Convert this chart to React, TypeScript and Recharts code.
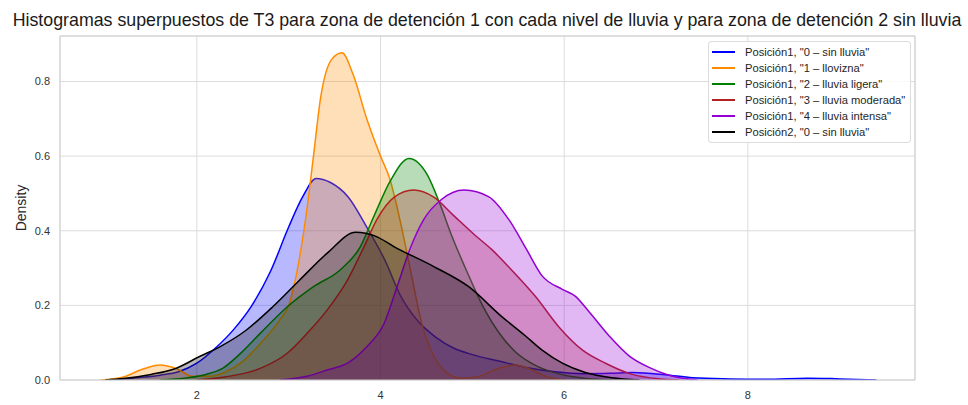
import { ComposedChart, Area, XAxis, YAxis, CartesianGrid, Legend, ReferenceLine } from "recharts"

const X_TICKS = [2, 4, 6, 8]
const Y_TICKS = [0, 0.2, 0.4, 0.6, 0.8]
const X_DOMAIN = [0.51, 9.82]
const Y_MAX = 0.922

// Posición1, "0 – sin lluvia"
const blueX = [1.0, 1.3, 1.6, 1.8, 2.0, 2.2, 2.4, 2.6, 2.8, 3.0, 3.15, 3.3, 3.45, 3.65, 3.85, 4.05, 4.22, 4.4, 4.6, 4.8, 5.0, 5.3, 5.6, 5.9, 6.2, 6.5, 6.75, 7.1, 7.4, 7.8, 8.2, 8.65, 9.0, 9.4]
const blueY = [0, 0.005, 0.013, 0.022, 0.045, 0.085, 0.135, 0.2, 0.29, 0.41, 0.49, 0.54, 0.53, 0.49, 0.41, 0.32, 0.225, 0.16, 0.115, 0.085, 0.068, 0.05, 0.033, 0.022, 0.017, 0.018, 0.02, 0.014, 0.006, 0.003, 0.002, 0.005, 0.003, 0]

// Posición1, "1 – llovizna"
const orangeX = [0.95, 1.2, 1.4, 1.6, 1.78, 1.95, 2.15, 2.3, 2.5, 2.7, 2.9, 3.0, 3.12, 3.2, 3.27, 3.35, 3.47, 3.58, 3.7, 3.85, 4.0, 4.1, 4.22, 4.33, 4.45, 4.58, 4.72, 4.88, 5.05, 5.25, 5.47, 5.62, 5.82, 6.0]
const orangeY = [0, 0.008, 0.028, 0.04, 0.03, 0.01, 0.01, 0.02, 0.05, 0.1, 0.16, 0.2, 0.33, 0.46, 0.6, 0.76, 0.86, 0.877, 0.82, 0.7, 0.6, 0.54, 0.42, 0.29, 0.15, 0.065, 0.02, 0.005, 0.008, 0.028, 0.04, 0.03, 0.008, 0]

// Posición1, "2 – lluvia ligera"
const greenX = [1.6, 1.9, 2.1, 2.28, 2.47, 2.69, 2.98, 3.27, 3.56, 3.78, 3.93, 4.11, 4.31, 4.51, 4.65, 4.77, 4.96, 5.11, 5.31, 5.47, 5.72, 6.02, 6.3, 6.6]
const greenY = [0, 0.006, 0.015, 0.031, 0.07, 0.125, 0.195, 0.25, 0.295, 0.357, 0.44, 0.535, 0.594, 0.55, 0.47, 0.39, 0.28, 0.2, 0.12, 0.075, 0.035, 0.012, 0.003, 0]

// Posición1, "3 – lluvia moderada"
const redX = [2.0, 2.3, 2.69, 2.98, 3.2, 3.42, 3.64, 3.82, 3.96, 4.15, 4.36, 4.58, 4.8, 5.02, 5.21, 5.4, 5.69, 5.94, 6.2, 6.45, 6.74, 7.04, 7.25]
const redY = [0, 0.008, 0.031, 0.071, 0.125, 0.188, 0.268, 0.357, 0.43, 0.49, 0.509, 0.49, 0.44, 0.39, 0.35, 0.302, 0.223, 0.143, 0.08, 0.045, 0.015, 0.003, 0]

// Posición1, "4 – lluvia intensa"
const purpleX = [2.9, 3.2, 3.42, 3.64, 3.85, 4.04, 4.18, 4.33, 4.47, 4.66, 4.91, 5.18, 5.4, 5.59, 5.76, 5.98, 6.12, 6.28, 6.49, 6.71, 6.93, 7.15, 7.45]
const purpleY = [0, 0.01, 0.027, 0.045, 0.089, 0.152, 0.25, 0.357, 0.43, 0.483, 0.509, 0.491, 0.429, 0.35, 0.279, 0.243, 0.225, 0.18, 0.118, 0.064, 0.033, 0.012, 0]

// Posición2, "0 – sin lluvia"
const blackX = [1.0, 1.2, 1.5, 1.77, 2.03, 2.25, 2.54, 2.83, 3.12, 3.42, 3.73, 3.95, 4.15, 4.58, 4.96, 5.32, 5.57, 5.76, 5.98, 6.23, 6.52, 6.82]
const blackY = [0, 0.004, 0.015, 0.031, 0.063, 0.089, 0.134, 0.197, 0.268, 0.34, 0.396, 0.385, 0.357, 0.304, 0.25, 0.17, 0.12, 0.08, 0.045, 0.02, 0.006, 0]

const SERIES = [
  { key: "p1s0", name: 'Posición1, "0 – sin lluvia"', color: "#0000ff", xs: blueX, ys: blueY },
  { key: "p1s1", name: 'Posición1, "1 – llovizna"', color: "#ff8c00", xs: orangeX, ys: orangeY },
  { key: "p1s2", name: 'Posición1, "2 – lluvia ligera"', color: "#008000", xs: greenX, ys: greenY },
  { key: "p1s3", name: 'Posición1, "3 – lluvia moderada"', color: "#b22222", xs: redX, ys: redY },
  { key: "p1s4", name: 'Posición1, "4 – lluvia intensa"', color: "#9400d3", xs: purpleX, ys: purpleY },
  { key: "p2s0", name: 'Posición2, "0 – sin lluvia"', color: "#000000", xs: blackX, ys: blackY },
]

// one row per x value, series without a point there stay empty (connectNulls)
const buildRows = () => {
  const byX = new Map<number, Record<string, number>>()
  SERIES.forEach((s) => {
    s.xs.forEach((x, i) => {
      const row = byX.get(x) ?? { x }
      row[s.key] = s.ys[i]
      byX.set(x, row)
    })
  })
  return Array.from(byX.values()).sort((a, b) => a.x - b.x)
}

const rows = buildRows()

const font = '"Liberation Sans", Arial, sans-serif'

const LegendBox = () => (
  <div
    style={{
      border: "1px solid #dcdcdc",
      borderRadius: 3,
      background: "rgba(255,255,255,0.85)",
      padding: "2px 5px 2px 3px",
      fontFamily: font,
      fontSize: 11.2,
      color: "#262626",
    }}
  >
    {SERIES.map((s) => (
      <div key={s.key} style={{ display: "flex", alignItems: "center", height: 16, whiteSpace: "nowrap" }}>
        <span style={{ display: "inline-block", width: 23, height: 2, background: s.color, marginRight: 10 }} />
        <span>{s.name}</span>
      </div>
    ))}
  </div>
)

export default function App() {
  return (
    <div style={{ position: "absolute", left: 0, top: 0, width: 968, height: 405, background: "#fff", fontFamily: font, overflow: "hidden" }}>
      <div
        style={{
          position: "absolute",
          left: 0,
          top: 10,
          width: 974,
          textAlign: "center",
          fontSize: 17.8,
          color: "#1a1a1a",
          lineHeight: "20px",
          whiteSpace: "nowrap",
        }}
      >
        Histogramas superpuestos de T3 para zona de detención 1 con cada nivel de lluvia y para zona de detención 2 sin lluvia
      </div>
      <ComposedChart width={968} height={405} data={rows} margin={{ top: 36, right: 53, bottom: 0, left: 0 }}>
        <CartesianGrid stroke="#dcdcdc" strokeWidth={1} />
        <XAxis
          type="number"
          dataKey="x"
          domain={X_DOMAIN}
          ticks={X_TICKS}
          allowDataOverflow
          height={25}
          tickSize={0}
          tickMargin={11}
          axisLine={{ stroke: "#cfcfcf" }}
          tick={{ fontSize: 11, fill: "#333", fontFamily: font }}
          label={{ value: "T3", position: "insideBottom", offset: -14, fontSize: 13, fill: "#333" }}
        />
        <YAxis
          type="number"
          domain={[0, Y_MAX]}
          ticks={Y_TICKS}
          allowDataOverflow
          width={60}
          tickSize={0}
          tickMargin={10}
          axisLine={{ stroke: "#cfcfcf" }}
          tickFormatter={(v: number) => v.toFixed(1)}
          tick={{ fontSize: 11, fill: "#333", fontFamily: font }}
          label={{ value: "Density", angle: -90, position: "center", dx: -9, fontSize: 14, fill: "#262626" }}
        />
        <ReferenceLine y={Y_MAX} stroke="#cfcfcf" />
        <ReferenceLine x={X_DOMAIN[1]} stroke="#cfcfcf" />
        {SERIES.map((s) => (
          <Area
            key={s.key}
            type="monotone"
            dataKey={s.key}
            name={s.name}
            stroke={s.color}
            strokeWidth={1.5}
            fill={s.color}
            fillOpacity={0.28}
            connectNulls
            dot={false}
            activeDot={false}
            isAnimationActive={false}
          />
        ))}
        <Legend
          layout="vertical"
          align="center"
          verticalAlign="middle"
          content={() => <LegendBox />}
          wrapperStyle={{ left: 708, top: 41, width: "auto", height: "auto" }}
        />
      </ComposedChart>
    </div>
  )
}
